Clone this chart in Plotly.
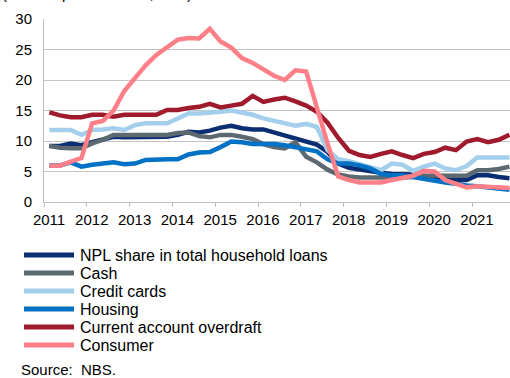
import plotly.graph_objects as go

# Quarterly observations, 2011 Q1 - 2021 Q4
years = list(range(2011, 2022))
quarters = [y + (q + 0.5) / 4 for y in years for q in range(4)]

npl_total = [9.2, 9.2, 9.6, 9.3, 9.8, 10.3, 10.7, 10.6, 10.6, 10.7, 10.7, 10.7,
             11.0, 11.5, 11.4, 11.7, 12.2, 12.5, 12.1, 11.9, 11.9, 11.4, 10.9, 10.4,
             10.0, 9.4, 8.2, 6.3, 5.6, 5.3, 5.0, 4.8, 4.6, 4.6, 4.5, 4.3,
             4.0, 3.8, 3.6, 3.6, 4.4, 4.4, 4.1, 3.9]
cash = [9.2, 8.9, 8.8, 8.8, 9.6, 10.2, 11.0, 11.0, 11.0, 11.0, 11.0, 11.0,
        11.3, 11.4, 10.8, 10.6, 11.0, 11.0, 10.7, 10.3, 9.5, 9.0, 8.8, 9.8,
        7.4, 6.5, 5.3, 4.5, 4.2, 4.0, 4.0, 4.0, 3.9, 4.0, 4.1, 4.3,
        4.4, 4.3, 4.3, 4.3, 5.2, 5.2, 5.4, 5.8]
credit_cards = [11.8, 11.8, 11.8, 11.0, 11.8, 11.9, 12.1, 11.8, 12.6, 12.9, 12.9, 12.9,
                13.7, 14.5, 14.5, 14.6, 14.8, 15.0, 14.7, 14.3, 13.7, 13.3, 13.0, 12.5,
                12.8, 12.3, 8.5, 7.0, 6.7, 6.2, 5.8, 5.2, 6.3, 6.1, 5.1, 5.8,
                6.3, 5.5, 5.2, 5.9, 7.3, 7.3, 7.3, 7.3]
housing = [6.0, 6.0, 6.5, 5.8, 6.1, 6.3, 6.5, 6.2, 6.3, 6.9, 7.0, 7.0,
           7.0, 7.8, 8.1, 8.2, 9.0, 9.9, 9.8, 9.5, 9.5, 9.5, 9.3, 9.0,
           8.7, 8.3, 7.0, 6.3, 6.3, 6.0, 5.5, 4.6, 4.4, 4.4, 4.1, 3.8,
           3.4, 3.2, 3.0, 2.7, 2.6, 2.4, 2.3, 2.0]
overdraft = [14.7, 14.2, 13.9, 13.9, 14.3, 14.3, 14.0, 14.3, 14.3, 14.3, 14.3, 15.1,
             15.1, 15.4, 15.6, 16.1, 15.5, 15.8, 16.1, 17.4, 16.4, 16.8, 17.1, 16.5,
             15.8, 14.8, 13.0, 10.5, 8.4, 7.7, 7.4, 7.9, 8.3, 7.7, 7.2, 7.9,
             8.2, 8.9, 8.5, 9.9, 10.3, 9.8, 10.2, 11.0]
consumer = [5.95, 5.95, 6.6, 7.2, 12.9, 13.3, 15.0, 18.2, 20.3, 22.4, 24.1, 25.3,
            26.6, 26.9, 26.8, 28.4, 26.3, 25.3, 23.6, 22.8, 21.8, 20.7, 20.0, 21.6,
            21.4, 15.4, 9.6, 4.2, 3.6, 3.2, 3.2, 3.2, 3.6, 4.0, 4.3, 5.1,
            5.0, 3.6, 3.0, 2.4, 2.6, 2.5, 2.4, 2.3]

series_names = ["NPL share in total household loans", "Cash", "Credit cards",
                "Housing", "Current account overdraft", "Consumer"]
series_values = [npl_total, cash, credit_cards, housing, overdraft, consumer]
series_colors = ["#0b2e73", "#5d6970", "#a3cfec", "#0072c6", "#a01a2e", "#ff7f88"]

W, H = 510, 378
M_L, M_R, M_T, M_B = 44, 0, 19, 176
PLOT_W = W - M_L - M_R
PLOT_H = H - M_T - M_B
FONT = "Liberation Sans, Arial, sans-serif"


def px_x(px):
    return (px - M_L) / PLOT_W


def px_y(py):
    return (H - M_B - py) / PLOT_H


fig = go.Figure()
for name, vals, color in zip(series_names, series_values, series_colors):
    fig.add_trace(go.Scatter(x=quarters, y=vals, mode="lines", name=name,
                             line=dict(color=color, width=4.5),
                             showlegend=False))

# Hand-built legend: thick line sample + label per series
row_y0, row_step = 255, 18
for k, (name, color) in enumerate(zip(series_names, series_colors)):
    yy = px_y(row_y0 + k * row_step)
    fig.add_shape(type="line", xref="paper", yref="paper",
                  x0=px_x(24), x1=px_x(74), y0=yy, y1=yy,
                  line=dict(color=color, width=5))
    fig.add_annotation(xref="paper", yref="paper", x=px_x(78), y=yy,
                       xanchor="left", yanchor="middle", text=name,
                       showarrow=False, font=dict(size=16, color="#000000", family=FONT))

fig.add_annotation(xref="paper", yref="paper", x=px_x(19), y=px_y(369),
                   xanchor="left", yanchor="middle", text="Source:  NBS.",
                   showarrow=False, font=dict(size=15, color="#000000", family=FONT))

# Unit line above the plot (sits partly above the page edge)
fig.add_annotation(xref="paper", yref="paper", x=px_x(0), y=px_y(4),
                   xanchor="left", yanchor="bottom", text="(% of respective loans, in %)",
                   showarrow=False, font=dict(size=15, color="#000000", family=FONT))

fig.update_layout(
    width=W, height=H, autosize=False,
    margin=dict(l=M_L, r=M_R, t=M_T, b=M_B, pad=0),
    paper_bgcolor="white", plot_bgcolor="white",
    font=dict(family=FONT, size=15, color="#000000"),
)
fig.update_xaxes(
    range=[2011, 2011 + PLOT_W / 42.8],
    tickvals=years, ticktext=[str(y) for y in years],
    ticks="outside", ticklen=4, tickcolor="#bfbfbf", tickwidth=1,
    ticklabelshift=5,
    showline=True, linecolor="#bfbfbf", linewidth=1,
    showgrid=False, zeroline=False,
    tickfont=dict(size=15, family=FONT, color="#000000"),
)
fig.update_yaxes(
    range=[0, 30], tickvals=[0, 5, 10, 15, 20, 25, 30],
    showline=True, linecolor="#bfbfbf", linewidth=1,
    showgrid=True, gridcolor="#c4c4c4", gridwidth=1,
    zeroline=False, ticks="", ticklabelstandoff=8,
    tickfont=dict(size=15, family=FONT, color="#000000"),
)

fig.write_html("out.html")
